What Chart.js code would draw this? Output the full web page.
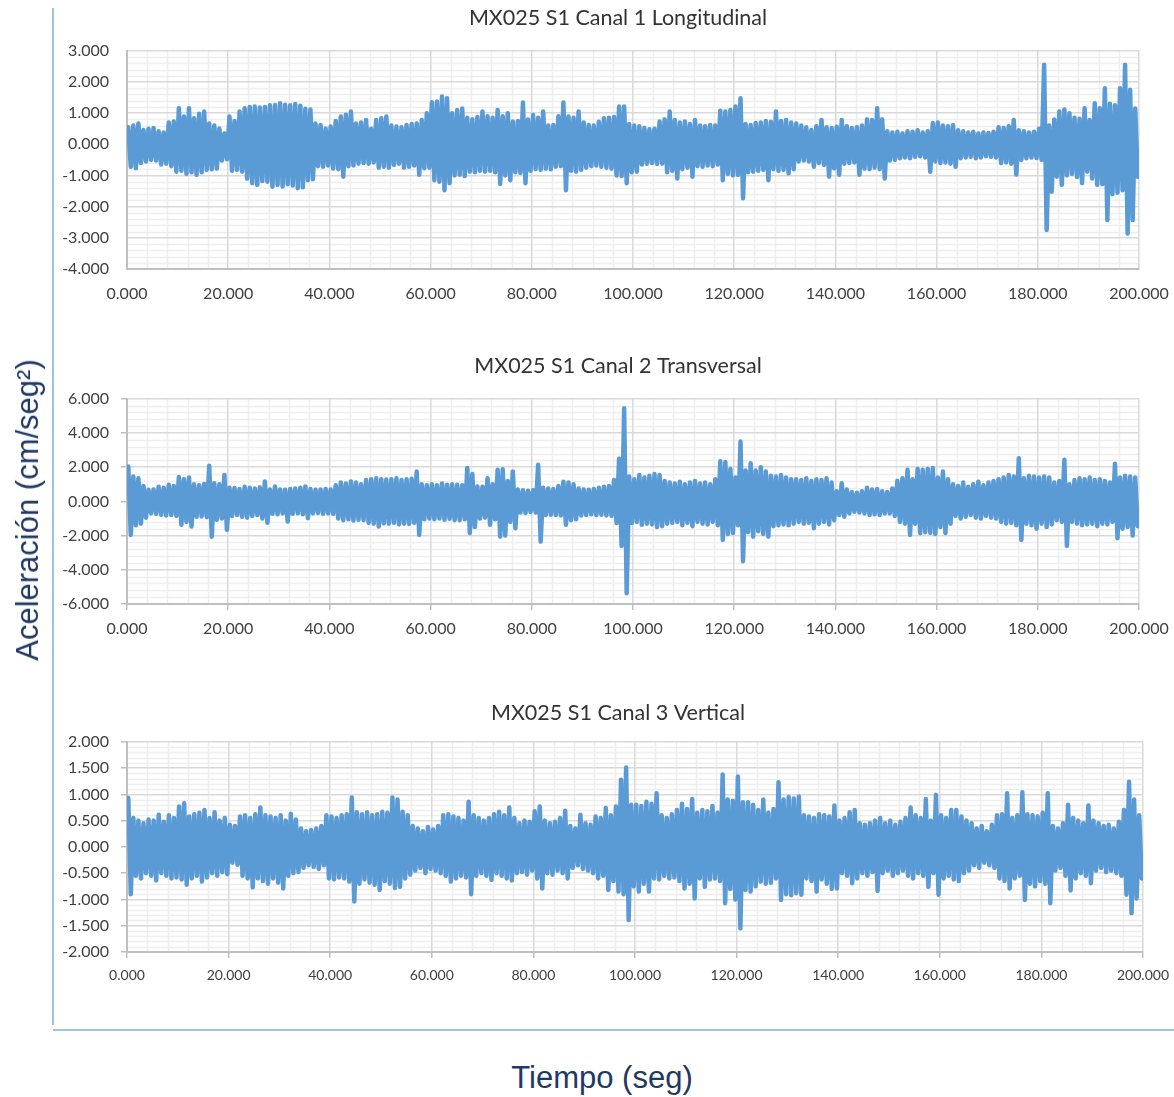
<!DOCTYPE html>
<html>
<head>
<meta charset="utf-8">
<script src="https://cdn.jsdelivr.net/npm/chart.js@4.4.1/dist/chart.umd.min.js"></script>
<style>
  html, body { margin: 0; padding: 0; background: #ffffff; }
  #page { position: relative; width: 1174px; height: 1097px; overflow: hidden; background: #ffffff; }
  #page canvas { position: absolute; left: 0; }
  .rule-v { position: absolute; left: 52px; top: 8px; width: 2px; height: 1017px; background: #9dc3e6; }
  .rule-h { position: absolute; left: 53px; top: 1029px; width: 1121px; height: 2px; background: #9dc3e6; }
  .axis-title { position: absolute; font-family: "Liberation Sans", Arial, sans-serif; font-size: 31px; color: #1f3864; white-space: nowrap; }
  #ytitle { left: 28px; top: 510px; transform: translate(-50%, -50%) rotate(-90deg); }
  #xtitle { left: 602px; top: 1078px; transform: translate(-50%, -50%); }
</style>
</head>
<body>
<div id="page">
  <div class="rule-v"></div>
  <div class="rule-h"></div>
  <canvas id="c1" width="1174" height="320" style="top:0px"></canvas>
  <canvas id="c2" width="1174" height="320" style="top:340px"></canvas>
  <canvas id="c3" width="1174" height="330" style="top:690px"></canvas>
  <div class="axis-title" id="ytitle">Aceleración (cm/seg²)</div>
  <div class="axis-title" id="xtitle">Tiempo (seg)</div>
</div>
<script>
// Peak acceleration per 1-second window (cm/seg²): upper and lower envelope of each record.
const BIN_SECONDS = 1;

const ch1Title = 'MX025 S1 Canal 1 Longitudinal';
const ch1Max = [
  0.55,0.60,0.67,0.46,0.50,0.52,0.42,0.38,0.70,0.73,1.16,0.89,1.16,0.84,0.98,1.05,0.67,0.60,0.51,0.35,
  0.89,0.75,1.05,1.16,1.20,1.21,1.18,1.20,1.25,1.26,1.32,1.27,1.25,1.29,1.24,1.14,1.12,0.67,0.62,0.51,
  0.57,0.75,0.89,0.95,1.05,0.67,0.70,0.78,0.50,0.78,0.84,0.89,0.60,0.57,0.55,0.62,0.65,0.67,0.78,1.00,
  1.35,1.37,1.53,1.48,1.00,1.10,1.15,0.85,0.80,0.88,1.05,0.90,0.85,1.10,0.90,1.00,0.73,0.75,1.34,0.80,
  0.94,0.85,1.05,0.60,0.62,0.90,1.34,0.89,0.85,1.05,0.70,0.62,0.60,0.72,0.84,0.85,0.88,1.21,1.21,0.65,
  0.60,0.58,0.52,0.48,0.50,0.73,0.80,1.05,0.78,0.70,0.73,0.65,0.78,0.60,0.58,0.62,0.60,1.08,1.05,1.10,
  1.21,1.48,0.65,0.62,0.68,0.70,0.75,0.72,1.05,0.75,0.78,0.70,0.67,0.60,0.55,0.46,0.58,0.78,0.55,0.52,
  0.56,0.78,0.58,0.52,0.55,0.60,0.80,0.78,1.16,0.80,0.42,0.38,0.40,0.35,0.42,0.40,0.45,0.38,0.42,0.68,
  0.70,0.60,0.58,0.62,0.45,0.42,0.38,0.40,0.35,0.38,0.36,0.40,0.55,0.52,0.58,0.78,0.45,0.42,0.38,0.40,
  0.50,2.55,0.60,0.80,1.05,1.12,1.00,0.85,0.82,1.16,0.78,1.32,1.16,1.80,1.30,1.25,1.80,2.55,1.75,1.15
];
const ch1Min = [
  -0.72,-0.77,-0.60,-0.55,-0.50,-0.52,-0.65,-0.62,-0.70,-0.88,-0.85,-0.95,-0.90,-0.98,-0.90,-0.82,-0.80,-0.78,-0.52,-0.48,
  -0.85,-0.82,-0.88,-1.10,-1.25,-1.30,-1.18,-1.20,-1.36,-1.30,-1.35,-1.28,-1.32,-1.41,-1.38,-1.15,-1.12,-0.70,-0.72,-0.68,
  -0.78,-0.80,-1.04,-0.70,-0.68,-0.62,-0.60,-0.62,-0.58,-0.75,-0.72,-0.75,-0.66,-0.62,-0.75,-0.72,-0.68,-0.98,-0.77,-0.75,
  -1.15,-1.20,-1.47,-1.25,-1.00,-0.98,-1.02,-0.88,-0.90,-0.85,-0.88,-0.85,-0.90,-1.27,-1.00,-1.15,-0.90,-0.92,-1.25,-0.85,
  -0.80,-0.82,-0.78,-0.80,-0.72,-0.70,-1.47,-0.85,-0.88,-0.82,-0.75,-0.70,-0.68,-0.72,-0.75,-0.78,-1.00,-1.02,-1.25,-0.90,
  -0.88,-0.65,-0.62,-0.60,-0.63,-0.62,-0.90,-0.85,-1.10,-0.80,-0.75,-1.04,-0.70,-0.72,-0.68,-0.70,-0.65,-1.15,-0.95,-1.00,
  -0.98,-1.73,-0.90,-0.88,-0.85,-0.82,-1.15,-0.80,-0.85,-0.82,-0.93,-0.80,-0.55,-0.52,-0.55,-0.72,-0.60,-0.66,-1.04,-0.77,
  -0.98,-0.62,-0.60,-0.58,-0.98,-0.78,-0.80,-0.75,-0.80,-1.10,-0.52,-0.50,-0.45,-0.42,-0.45,-0.40,-0.38,-0.42,-0.88,-0.55,
  -0.60,-0.58,-0.62,-0.72,-0.45,-0.42,-0.40,-0.45,-0.42,-0.38,-0.40,-0.42,-0.60,-0.58,-0.62,-0.97,-0.50,-0.45,-0.42,-0.44,
  -0.50,-2.75,-1.52,-1.04,-1.30,-1.00,-0.95,-1.05,-1.25,-0.88,-1.10,-1.30,-1.28,-2.43,-1.60,-1.55,-1.47,-2.86,-2.43,-1.04
];

const ch2Title = 'MX025 S1 Canal 2 Transversal';
const ch2Max = [
  2.04,1.45,1.35,0.90,0.68,0.70,0.85,0.80,0.97,0.90,1.42,1.30,1.40,1.00,0.95,1.02,2.08,1.06,1.00,1.55,
  0.80,0.78,0.72,0.85,0.80,0.75,0.82,1.16,0.70,0.87,0.70,0.68,0.72,0.75,0.80,0.87,0.72,0.68,0.70,0.72,
  0.70,0.95,1.10,1.05,1.16,1.10,1.00,1.25,1.30,1.35,1.30,1.28,1.30,1.35,1.25,1.30,1.32,1.75,1.00,0.95,
  1.00,0.95,1.05,0.98,1.00,0.97,0.95,1.95,1.60,0.87,0.85,1.36,1.00,1.85,1.88,1.20,1.75,0.70,0.65,0.62,
  0.65,2.14,0.80,0.75,0.72,0.90,1.15,1.10,1.00,0.75,0.70,0.68,0.72,0.80,0.85,0.90,1.25,2.50,5.45,1.45,
  1.30,1.55,1.40,1.50,1.60,1.55,1.20,1.10,1.05,1.15,1.00,1.10,1.20,1.05,1.10,1.00,1.30,2.35,2.30,1.90,
  1.40,3.50,1.80,2.23,1.80,2.00,1.75,1.50,1.45,1.55,1.40,1.30,1.30,1.25,1.35,1.20,1.30,1.25,1.35,1.10,
  0.60,1.06,0.70,0.55,0.50,0.60,0.80,0.70,0.72,0.60,0.55,0.75,1.20,1.36,1.85,1.30,1.90,1.85,1.90,1.95,
  1.40,1.75,1.30,1.00,0.90,1.10,0.85,1.00,1.15,0.95,1.10,1.20,1.30,1.40,1.55,1.45,2.53,1.35,1.50,1.45,
  1.40,1.45,1.40,1.10,1.20,2.43,1.00,1.25,1.35,1.30,1.40,1.25,1.30,1.20,1.10,2.20,1.40,1.50,1.45,1.40
];
const ch2Min = [
  -1.96,-1.40,-1.30,-0.95,-0.70,-0.72,-0.78,-0.82,-0.80,-0.85,-1.37,-1.20,-1.47,-0.90,-0.88,-0.92,-2.06,-1.08,-1.00,-1.66,
  -0.85,-0.80,-0.90,-0.95,-0.85,-0.80,-1.00,-1.25,-0.72,-0.75,-0.70,-1.18,-0.72,-0.70,-0.75,-0.98,-0.70,-0.68,-0.72,-0.70,
  -0.72,-1.00,-1.10,-1.05,-1.12,-1.08,-1.10,-1.25,-1.30,-1.47,-1.28,-1.30,-1.25,-1.35,-1.30,-1.32,-1.25,-1.96,-1.05,-1.00,
  -1.05,-1.00,-1.08,-1.02,-1.10,-1.10,-1.05,-1.86,-1.50,-1.00,-0.95,-1.37,-1.05,-2.06,-2.00,-1.20,-1.57,-0.65,-0.68,-0.62,
  -0.65,-2.35,-0.80,-0.78,-0.80,-0.82,-1.37,-1.10,-1.05,-0.82,-0.80,-0.75,-0.80,-0.78,-0.82,-0.85,-1.27,-2.60,-5.37,-1.27,
  -1.20,-1.37,-1.30,-1.35,-1.50,-1.45,-1.30,-1.25,-1.20,-1.40,-1.25,-1.45,-1.20,-1.30,-1.35,-1.20,-1.40,-2.25,-1.90,-1.85,
  -1.40,-3.50,-1.80,-2.06,-1.75,-1.90,-2.06,-1.45,-1.40,-1.35,-1.40,-1.30,-1.20,-1.30,-1.25,-1.57,-1.30,-1.20,-1.35,-1.10,
  -0.80,-0.90,-0.70,-0.60,-0.65,-0.70,-0.80,-0.75,-0.80,-0.70,-0.70,-0.85,-1.20,-1.30,-1.96,-1.30,-1.86,-1.80,-1.85,-1.90,
  -1.50,-1.85,-1.30,-0.85,-1.00,-0.90,-0.80,-0.95,-1.00,-0.85,-0.95,-1.00,-1.20,-1.30,-1.25,-1.40,-2.25,-1.30,-1.40,-1.60,
  -1.30,-1.50,-1.35,-1.10,-1.20,-2.60,-1.20,-1.30,-1.40,-1.35,-1.30,-1.45,-1.30,-1.35,-1.20,-2.15,-1.60,-1.50,-2.00,-1.45
];

const ch3Title = 'MX025 S1 Canal 3 Vertical';
const ch3Max = [
  0.93,0.55,0.50,0.45,0.52,0.50,0.61,0.48,0.60,0.55,0.77,0.83,0.58,0.62,0.65,0.70,0.55,0.66,0.50,0.55,
  0.42,0.40,0.58,0.60,0.55,0.62,0.75,0.60,0.58,0.55,0.60,0.50,0.63,0.52,0.35,0.30,0.32,0.35,0.40,0.60,
  0.58,0.55,0.60,0.62,0.94,0.66,0.62,0.66,0.60,0.62,0.67,0.65,0.94,0.90,0.67,0.60,0.40,0.35,0.30,0.38,
  0.33,0.40,0.60,0.62,0.58,0.55,0.50,0.86,0.60,0.55,0.50,0.55,0.62,0.67,0.60,0.75,0.55,0.45,0.50,0.48,
  0.68,0.77,0.50,0.45,0.48,0.55,0.69,0.40,0.35,0.61,0.45,0.42,0.58,0.55,0.74,0.60,0.77,1.28,1.51,0.80,
  0.80,0.78,0.86,0.82,1.02,0.60,0.55,0.62,0.70,0.82,0.72,0.91,0.65,0.70,0.68,0.78,0.65,1.38,0.90,0.88,
  1.34,0.85,0.85,0.80,0.70,0.90,0.65,0.72,1.23,0.90,0.95,0.92,0.96,0.60,0.58,0.55,0.62,0.60,0.58,0.79,
  0.50,0.55,0.66,0.70,0.45,0.42,0.45,0.50,0.55,0.45,0.50,0.42,0.48,0.55,0.75,0.60,0.55,0.91,0.50,0.99,
  0.60,0.55,0.70,0.70,0.58,0.50,0.45,0.35,0.40,0.30,0.42,0.60,0.62,1.02,0.55,0.60,1.04,0.62,0.60,0.58,
  0.65,1.02,0.40,0.35,0.45,0.80,0.55,0.50,0.45,0.79,0.50,0.45,0.40,0.42,0.35,0.48,0.70,1.24,0.90,0.60
];
const ch3Min = [
  -0.90,-0.55,-0.60,-0.50,-0.55,-0.64,-0.50,-0.55,-0.60,-0.58,-0.62,-0.72,-0.60,-0.55,-0.66,-0.58,-0.50,-0.55,-0.48,-0.52,
  -0.30,-0.34,-0.55,-0.60,-0.77,-0.60,-0.65,-0.70,-0.60,-0.68,-0.79,-0.55,-0.50,-0.48,-0.40,-0.35,-0.38,-0.42,-0.35,-0.60,
  -0.62,-0.58,-0.60,-0.66,-1.04,-0.70,-0.62,-0.68,-0.72,-0.82,-0.65,-0.70,-0.78,-0.76,-0.60,-0.53,-0.45,-0.40,-0.50,-0.42,
  -0.45,-0.50,-0.55,-0.66,-0.60,-0.55,-0.58,-0.90,-0.55,-0.50,-0.55,-0.63,-0.50,-0.55,-0.60,-0.64,-0.50,-0.48,-0.53,-0.45,
  -0.60,-0.79,-0.50,-0.53,-0.45,-0.50,-0.60,-0.40,-0.35,-0.42,-0.45,-0.50,-0.60,-0.55,-0.82,-0.65,-0.85,-0.90,-1.39,-0.75,
  -0.85,-0.70,-0.85,-0.60,-0.62,-0.55,-0.60,-0.58,-0.65,-0.79,-0.70,-0.98,-0.60,-0.76,-0.62,-0.60,-0.65,-1.07,-0.80,-1.00,
  -1.55,-0.82,-0.85,-0.75,-0.66,-0.70,-0.68,-0.60,-1.01,-0.90,-0.92,-0.88,-0.91,-0.60,-0.65,-0.85,-0.62,-0.70,-0.80,-0.79,
  -0.50,-0.55,-0.69,-0.60,-0.50,-0.55,-0.48,-0.84,-0.50,-0.45,-0.55,-0.50,-0.45,-0.55,-0.60,-0.50,-0.55,-0.76,-0.50,-0.91,
  -0.60,-0.55,-0.62,-0.65,-0.50,-0.45,-0.35,-0.40,-0.30,-0.35,-0.40,-0.60,-0.65,-0.79,-0.60,-0.55,-1.01,-0.70,-0.75,-0.65,
  -0.70,-1.07,-0.45,-0.40,-0.55,-0.83,-0.60,-0.50,-0.55,-0.69,-0.45,-0.40,-0.48,-0.45,-0.50,-0.55,-0.91,-1.26,-0.98,-0.60
];

// Axis ranges and tick spacing for each record
const timeRange = [0, 200];
const timeStep = 20;
const timeMinorStep = 4;
const ch1Range = [-4, 3];   const ch1Step = 1;   const ch1MinorStep = 0.2;
const ch2Range = [-6, 6];   const ch2Step = 2;   const ch2MinorStep = 0.4;
const ch3Range = [-2, 2];   const ch3Step = 0.5; const ch3MinorStep = 0.1;

// Each window contributes its positive peak then its negative peak, so the
// trace swings between both envelopes like the recorded signal.
function trace(maxs, mins) {
  const pts = [];
  maxs.forEach((v, i) => {
    const t0 = i * BIN_SECONDS;
    pts.push({ x: t0 + 0.25 * BIN_SECONDS, y: v });
    pts.push({ x: t0 + 0.75 * BIN_SECONDS, y: mins[i] });
  });
  return pts;
}

// Light secondary gridlines between the major ones
const minorGrid = {
  id: 'minorGrid',
  beforeDraw(chart, args, opts) {
    const { ctx, chartArea: a, scales } = chart;
    ctx.save();
    ctx.strokeStyle = opts.color;
    ctx.lineWidth = opts.width;
    const xs = scales.x, ys = scales.y;
    const nx = Math.round((xs.max - xs.min) / opts.xStep);
    for (let k = 1; k < nx; k++) {
      if (k % opts.per === 0) continue;
      const px = Math.round(xs.getPixelForValue(xs.min + k * opts.xStep)) + 0.5;
      ctx.beginPath(); ctx.moveTo(px, a.top); ctx.lineTo(px, a.bottom); ctx.stroke();
    }
    const ny = Math.round((ys.max - ys.min) / opts.yStep);
    for (let k = 1; k < ny; k++) {
      if (k % opts.per === 0) continue;
      const py = Math.round(ys.getPixelForValue(ys.min + k * opts.yStep)) + 0.5;
      ctx.beginPath(); ctx.moveTo(a.left, py); ctx.lineTo(a.right, py); ctx.stroke();
    }
    ctx.restore();
  }
};

const TEXT = '#404040';
const FONT = 'Lato, "Open Sans", sans-serif';
const PLOT_LEFT = 127;
const PAD_LEFT = 62;

// The title spans the layout box between the left and right paddings; the
// right margin is taken by an empty spacer axis so the title is centred on
// the whole figure while the plot keeps its place.
function buildChart(id, spec) {
  const ctx = document.getElementById(id);
  return new Chart(ctx, {
    type: 'line',
    data: {
      datasets: [{
        data: trace(spec.max, spec.min),
        borderColor: '#5b9bd5',
        borderWidth: 4.5,
        borderJoinStyle: 'round',
        borderCapStyle: 'round',
        pointRadius: 0,
        fill: false,
        tension: 0
      }]
    },
    options: {
      responsive: false,
      devicePixelRatio: 1,
      animation: false,
      events: [],
      layout: { padding: { left: PAD_LEFT, right: 0, top: 0, bottom: spec.padBottom } },
      plugins: {
        legend: { display: false },
        tooltip: { enabled: false },
        title: {
          display: true,
          text: spec.title,
          color: '#333333',
          font: { family: FONT, size: 21.5, weight: 'normal' },
          padding: { top: spec.titleTop, bottom: spec.titleBottom }
        },
        minorGrid: { color: '#eeeeee', width: 1.5, xStep: timeMinorStep, yStep: spec.minorStep, per: 5 }
      },
      scales: {
        x: {
          type: 'linear',
          min: timeRange[0], max: timeRange[1],
          afterFit(s) { s.height = 40; s.paddingLeft = 0; s.paddingRight = 0; },
          ticks: {
            stepSize: timeStep,
            autoSkip: false,
            maxRotation: 0,
            padding: spec.ticks ? 9 : 15,
            color: TEXT,
            font: { family: FONT, size: spec.xFont },
            callback: v => Number(v).toFixed(3)
          },
          grid: { color: '#d9d9d9', lineWidth: 1.5, drawTicks: spec.ticks, tickLength: 6, tickColor: '#bfbfbf' },
          border: { color: '#bfbfbf', width: 2 }
        },
        y: {
          type: 'linear',
          min: spec.range[0], max: spec.range[1],
          afterFit(s) { s.width = PLOT_LEFT - PAD_LEFT; s.paddingTop = 0; s.paddingBottom = 0; },
          ticks: {
            stepSize: spec.step,
            autoSkip: false,
            padding: spec.ticks ? 12 : 18,
            color: TEXT,
            font: { family: FONT, size: 16 },
            callback: v => Number(v).toFixed(3)
          },
          grid: { color: '#d9d9d9', lineWidth: 1.5, drawTicks: spec.ticks, tickLength: 6, tickColor: '#bfbfbf' },
          border: { color: '#bfbfbf', width: 2 }
        },
        spacer: {
          type: 'linear',
          position: 'right',
          display: true,
          afterFit(s) { s.width = spec.rightMargin; s.paddingTop = 0; s.paddingBottom = 0; },
          ticks: { display: false },
          grid: { display: false, drawTicks: false },
          border: { display: false }
        }
      }
    },
    plugins: [minorGrid]
  });
}

buildChart('c1', { title: ch1Title, max: ch1Max, min: ch1Min, range: ch1Range, step: ch1Step, minorStep: ch1MinorStep,
  ticks: false, titleTop: 5, titleBottom: 20, padBottom: 11, rightMargin: 35, xFont: 16 });
buildChart('c2', { title: ch2Title, max: ch2Max, min: ch2Min, range: ch2Range, step: ch2Step, minorStep: ch2MinorStep,
  ticks: true, titleTop: 13, titleBottom: 20, padBottom: 16, rightMargin: 35, xFont: 16 });
buildChart('c3', { title: ch3Title, max: ch3Max, min: ch3Min, range: ch3Range, step: ch3Step, minorStep: ch3MinorStep,
  ticks: true, titleTop: 10, titleBottom: 16, padBottom: 28, rightMargin: 31, xFont: 14 });
</script>
</body>
</html>
